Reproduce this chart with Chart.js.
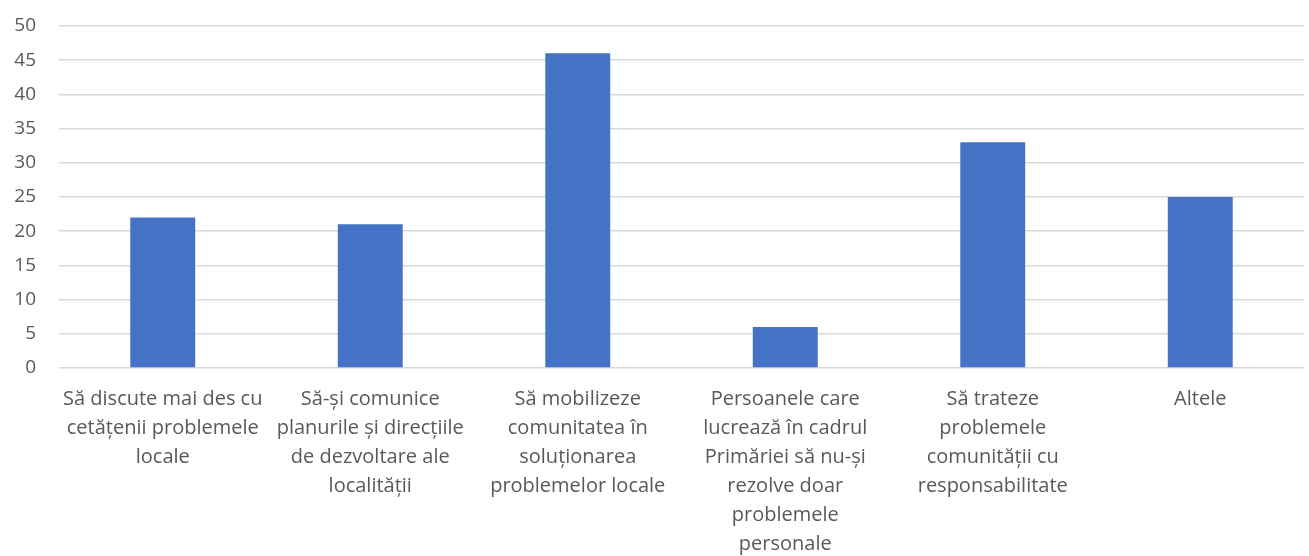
<!DOCTYPE html>
<html>
<head>
<meta charset="utf-8">
<script src="https://cdn.jsdelivr.net/npm/chart.js@4"></script>
<style>
html,body{margin:0;padding:0;background:#fff;}
#wrap{width:1309px;height:556px;position:relative;}
</style>
</head>
<body>
<div id="wrap"><canvas id="c" width="1309" height="556"></canvas></div>
<script>
const categories = [
  ["Să discute mai des cu", "cetățenii problemele", "locale"],
  ["Să-și comunice", "planurile și direcțiile", "de dezvoltare ale", "localității"],
  ["Să mobilizeze", "comunitatea în", "soluționarea", "problemelor locale"],
  ["Persoanele care", "lucrează în cadrul", "Primăriei să nu-și", "rezolve doar", "problemele", "personale"],
  ["Să trateze", "problemele", "comunității cu", "responsabilitate"],
  ["Altele"]
];
const values = [22, 21, 46, 6, 33, 25];
const yTicks = { min: 0, max: 50, step: 5 };

const FONT = "'Open Sans', 'Noto Sans', sans-serif";
new Chart(document.getElementById('c'), {
  type: 'bar',
  data: {
    labels: categories,
    datasets: [{
      data: values,
      backgroundColor: '#4472C4',
      borderWidth: 0,
      barPercentage: 0.313,
      categoryPercentage: 1.0
    }]
  },
  options: {
    responsive: false,
    animation: false,
    layout: { padding: { top: 26, right: 5, left: 0, bottom: 0 } },
    plugins: { legend: { display: false }, tooltip: { enabled: false } },
    scales: {
      x: {
        grid: { display: false },
        border: { display: false },
        ticks: {
          color: '#595959',
          font: { family: FONT, size: 20, lineHeight: 1.45 },
          maxRotation: 0, minRotation: 0, autoSkip: false,
          padding: 9
        },
        afterFit: (s) => { s.height = 188; s.paddingLeft = 0; s.paddingRight = 0; }
      },
      y: {
        min: yTicks.min, max: yTicks.max,
        ticks: {
          stepSize: yTicks.step,
          color: '#595959',
          font: { family: FONT, size: 19 },
          padding: 23
        },
        grid: { color: '#d9d9d9', lineWidth: 1.5, drawTicks: false },
        border: { display: false },
        afterFit: (s) => { s.width = 59; s.paddingTop = 0; s.paddingBottom = 0; }
      }
    }
  }
});
</script>
</body>
</html>
